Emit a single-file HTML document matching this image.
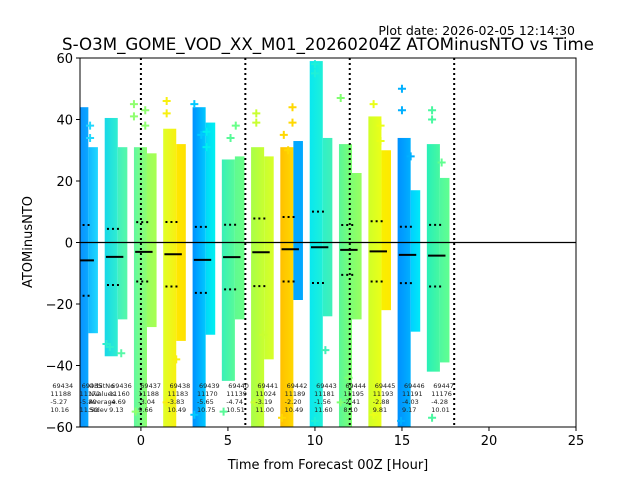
<!DOCTYPE html>
<html><head><meta charset="utf-8"><style>
html,body{margin:0;padding:0;background:#fff;}
svg{display:block;font-family:"DejaVu Sans","Liberation Sans",sans-serif;}
</style></head><body>
<svg id="chart" width="640" height="480" viewBox="0 0 640 480" xmlns="http://www.w3.org/2000/svg">
<rect width="640" height="480" fill="#fff"/>
<defs id="defs"></defs>
<text x="575" y="35" font-size="12.5" text-anchor="end" fill="#000">Plot date: 2026-02-05 12:14:30</text>
<text x="328" y="50" font-size="16.5" text-anchor="middle" fill="#000" textLength="532" lengthAdjust="spacingAndGlyphs">S-O3M_GOME_VOD_XX_M01_20260204Z ATOMinusNTO vs Time</text>
<g id="plot"></g>
<text x="328" y="469" font-size="13" text-anchor="middle">Time from Forecast 00Z [Hour]</text>
<text x="32" y="242" font-size="13" text-anchor="middle" transform="rotate(-90 32 242)">ATOMinusNTO</text>
</svg>
<script>
const orbits = ["69434","69435","69436","69437","69438","69439","69440","69441","69442","69443","69444","69445","69446","69447"];
const nvalues = ["11188","11172","11160","11188","11183","11170","11139","11024","11189","11181","11195","11193","11191","11176"];
const averages = [-5.27,-5.80,-4.69,-3.04,-3.83,-5.65,-4.74,-3.19,-2.20,-1.56,-2.41,-2.88,-4.03,-4.28];
const stdevs = [10.16,11.50,9.13,9.66,10.49,10.75,10.51,11.00,10.49,11.60,8.10,9.81,9.17,10.01];
const startHours = [-5.1,-3.42,-1.73,-0.05,1.63,3.32,5.0,6.68,8.36,10.05,11.73,13.42,15.1,16.78];
const leftTop = [44,44,40.5,31,37,44,27,31,31,59,32,41,34,32];
const leftBottom = [-60,-60,-37,-60,-60,-60,-45,-60,-60,-60,-60,-60,-60,-42];
const rightTop = [30,31,31,29,32,39,28,28,33,34,22.6,30,17,21];
const rightBottom = [-28,-29.5,-25,-27.5,-32,-30,-25,-38,-18.7,-24,-25,-22,-29,-39];
const leftColors = [["#0a84ff","#0aa0ff"],["#0a84ff","#0aa8ff"],["#18d8e8","#30eed0"],["#60f8a0","#90ff70"],["#e0ff28","#f8f010"],["#0090ff","#00c8ff"],["#38f0b8","#58fa98"],["#a8ff48","#c8ff30"],["#ffc000","#ffd800"],["#08e8f0","#20f0d8"],["#58f898","#80ff70"],["#d0ff28","#eaff18"],["#0090ff","#00b0ff"],["#28f0b8","#48f8a0"]];
const rightColors = [["#10b8ff","#20d8ff"],["#10b8ff","#20d8ff"],["#40f0c0","#58f8a8"],["#98ff60","#a8ff50"],["#ffe800","#ffe000"],["#00d8f8","#00f0f0"],["#60fa90","#68ff88"],["#c8ff30","#d8ff28"],["#00a8ff","#00a8ff"],["#30f0c8","#40f0b8"],["#80ff70","#98ff60"],["#f8f000","#ffe800"],["#00d0ff","#00e8f8"],["#50f8a0","#60ff90"]];
const outGroup = [1,1,1,2,2,2,3,3,3,3,4,4,4,5,5,5,5,6,6,7,7,7,8,8,8,8,9,9,9,10,10,11,11,11,12,12,12,13,13,13,3,4,5,6,7,8,9,10,11,12,13];
const outOffset = [0.05,0.85,0.85,0.1,0.95,0.3,0.0,0.0,0.65,0.65,0.2,0.2,0.75,0.1,0.5,0.8,0.8,0.5,0.8,0.3,0.3,0.7,0.2,0.7,0.7,0.45,0.3,0.3,0.9,0.1,0.55,0.3,0.7,0.7,0.25,0.25,0.75,0.3,0.3,0.85,0.1,0.2,0.1,0.1,0.2,0.1,0.3,0.1,0.3,0.2,0.3];
const outValue = [47,38,34,-33,-36,-34,45,41,43,38,46,42,-38,45,35,36,31,34,38,42,39,-30,35,44,39,30,58,55,-35,47,-44,45,38,33,50,43,28,43,40,26,-55,-52,-56,-55,-52,-57,-58,-52,-56,-58,-57];

const X0=80,X1=576,Y0=58,Y1=427,XMIN=-3.5,XMAX=25,YMIN=-60,YMAX=60;
const xs=v=>X0+(v-XMIN)/(XMAX-XMIN)*(X1-X0);
const ys=v=>Y1-(v-YMIN)/(YMAX-YMIN)*(Y1-Y0);
const NS="http://www.w3.org/2000/svg";
const plot=document.getElementById('plot');
const defs=document.getElementById('defs');
function mk(tag,attrs,parent){const e=document.createElementNS(NS,tag);for(const k in attrs)e.setAttribute(k,attrs[k]);(parent||plot).appendChild(e);return e;}
const clip=mk('clipPath',{id:'pc'},defs);mk('rect',{x:X0,y:Y0,width:X1-X0,height:Y1-Y0},clip);
const data=mk('g',{'clip-path':'url(#pc)'});


function grad(id,c){const g=mk('linearGradient',{id:id,x1:0,x2:1,y1:0,y2:0},defs);mk('stop',{offset:0,'stop-color':c[0]},g);mk('stop',{offset:1,'stop-color':c[1]},g);}
for(let i=0;i<orbits.length;i++){
  const s=startHours[i];
  grad('gl'+i,leftColors[i]);grad('gr'+i,rightColors[i]);
  const l=mk('rect',{x:xs(s-0.35),y:ys(leftTop[i]),width:xs(s+0.4)-xs(s-0.35),height:ys(leftBottom[i])-ys(leftTop[i]),fill:'url(#gl'+i+')'},data);
  
  
  const r=mk('rect',{x:xs(s+0.4),y:ys(rightTop[i]),width:xs(s+0.95)-xs(s+0.4),height:ys(rightBottom[i])-ys(rightTop[i]),fill:'url(#gr'+i+')'},data);
  
  
}
for(let j=0;j<outGroup.length;j++){
  const i=outGroup[j];const cx=xs(startHours[i]-0.35+outOffset[j]),cy=ys(outValue[j]);
  const col=outOffset[j]>0.75?rightColors[i][1]:leftColors[i][1];
  const p=mk('path',{d:`M${cx-4},${cy}H${cx+4}M${cx},${cy-4}V${cy+4}`,stroke:col,'stroke-width':2},data);
  
  
}
const z=mk('line',{x1:X0,x2:X1,y1:ys(0),y2:ys(0),stroke:'#000','stroke-width':1.3});


[0,6,12,18].forEach(h=>{const v=mk('line',{x1:xs(h),x2:xs(h),y1:Y0,y2:Y1,stroke:'#000','stroke-width':2,'stroke-dasharray':'2,3'});

});
for(let i=1;i<orbits.length;i++){
  const s=startHours[i];
  const m=mk('line',{x1:xs(s-0.28),x2:xs(s+0.72),y1:ys(averages[i]),y2:ys(averages[i]),stroke:'#000','stroke-width':2},data);
  
  
  [averages[i]+stdevs[i],averages[i]-stdevs[i]].forEach(v=>{
    const d=mk('line',{x1:xs(s-0.22),x2:xs(s+0.55),y1:ys(v),y2:ys(v),stroke:'#000','stroke-width':2,'stroke-dasharray':'2,3'},data);
    
    
  });
}
for(let i=0;i<orbits.length;i++){
  const x=xs(startHours[i]-0.1);
  const t=mk('text',{x:x,y:388,'font-size':6.5,fill:'#222'});
  
  
  [orbits[i],nvalues[i],averages[i].toFixed(2),stdevs[i].toFixed(2)].forEach((s,k)=>{const ts=mk('tspan',{x:x+(k==0?2:0),dy:k?8:0},t);ts.textContent=s;});
}
const lab=mk('text',{x:89,y:388,'font-size':6.5,fill:'#222'});


["OrbitNo","Nvalues","Average","Stdev"].forEach((s,k)=>{const ts=mk('tspan',{x:89,dy:k?8:0},lab);ts.textContent=s;});
const fr=mk('rect',{x:X0,y:Y0,width:X1-X0,height:Y1-Y0,fill:'none',stroke:'#000','stroke-width':1});


const xticks=[0,5,10,15,20,25];
const yticks=[-60,-40,-20,0,20,40,60];
xticks.forEach(v=>{mk('line',{x1:xs(v),x2:xs(v),y1:Y1,y2:Y1+4,stroke:'#000'});
const t=mk('text',{x:xs(v),y:Y1+18,'font-size':13,'text-anchor':'middle'});t.textContent=v;

});
yticks.forEach(v=>{mk('line',{x1:X0-4,x2:X0,y1:ys(v),y2:ys(v),stroke:'#000'});
const t=mk('text',{x:X0-7,y:ys(v)+5,'font-size':13,'text-anchor':'end'});t.textContent=v<0?'\u2212'+(-v):v;

});
</script>
</body></html>
